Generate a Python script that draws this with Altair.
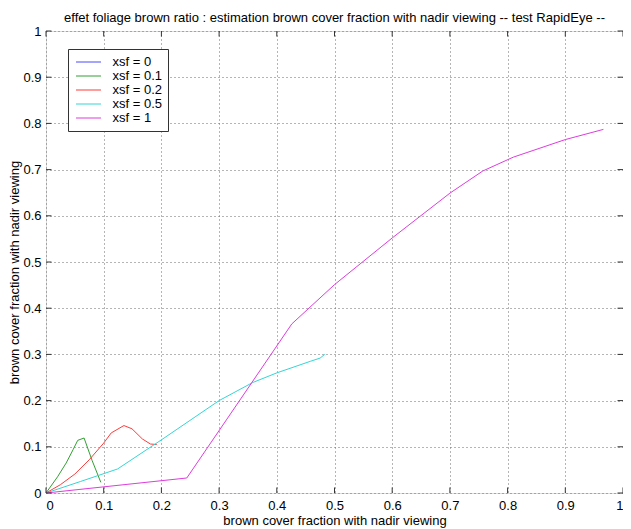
import altair as alt
import pandas as pd

FONT = "Liberation Sans"

series = ["xsf = 0", "xsf = 0.1", "xsf = 0.2", "xsf = 0.5", "xsf = 1"]
colors = ["#4a4aff", "#33a033", "#ff3b3b", "#33d6d6", "#dd3ddd"]

x_xsf0 = [0.0, 0.0]
y_xsf0 = [0.0, 0.0]

x_xsf01 = [0.0, 0.02, 0.035, 0.047, 0.055, 0.066, 0.08, 0.095]
y_xsf01 = [0.0, 0.035, 0.065, 0.094, 0.114, 0.119, 0.07, 0.023]

x_xsf02 = [0.0, 0.025, 0.05, 0.075, 0.1, 0.113, 0.135, 0.149, 0.167, 0.181, 0.192]
y_xsf02 = [0.0, 0.018, 0.041, 0.072, 0.108, 0.130, 0.146, 0.139, 0.117, 0.106, 0.105]

x_xsf05 = [0.0, 0.06, 0.124, 0.2, 0.3, 0.358, 0.4, 0.458, 0.475, 0.483]
y_xsf05 = [0.0, 0.025, 0.052, 0.115, 0.2, 0.239, 0.26, 0.285, 0.292, 0.3]

x_xsf1 = [0.0, 0.244, 0.426, 0.5, 0.6, 0.7, 0.757, 0.81, 0.9, 0.966]
y_xsf1 = [0.0, 0.0325, 0.366, 0.451, 0.552, 0.649, 0.697, 0.727, 0.765, 0.787]

tick_values = [0, 0.1, 0.2, 0.3, 0.4, 0.5, 0.6, 0.7, 0.8, 0.9, 1]

title_text = "effet foliage brown ratio : estimation brown cover fraction with nadir viewing -- test RapidEye --"
axis_title = "brown cover fraction with nadir viewing"

rows = []
for name, xs, ys in zip(series,
                        [x_xsf0, x_xsf01, x_xsf02, x_xsf05, x_xsf1],
                        [y_xsf0, y_xsf01, y_xsf02, y_xsf05, y_xsf1]):
    for i, (a, b) in enumerate(zip(xs, ys)):
        rows.append({"series": name, "x": a, "y": b, "i": i})
df = pd.DataFrame(rows)

xs_scale = alt.Scale(domain=[0, 1], nice=False, zero=False)
ys_scale = alt.Scale(domain=[0, 1], nice=False, zero=False)

x_axis = alt.Axis(values=tick_values, format=".1~f", grid=True, gridDash=[1, 3],
                  gridColor="#6a6a6a", gridOpacity=1, domain=False, ticks=False,
                  labelPadding=6, labelFontSize=13, labelColor="black",
                  title=axis_title, titleFontSize=13, titleFontWeight="normal",
                  titlePadding=2, titleColor="black", labelFont=FONT, titleFont=FONT)
y_axis = alt.Axis(values=tick_values, format=".1~f", grid=True, gridDash=[1, 3],
                  gridColor="#6a6a6a", gridOpacity=1, domain=False, ticks=False,
                  labelPadding=5, labelFontSize=13, labelColor="black",
                  title=axis_title, titleFontSize=13, titleFontWeight="normal",
                  titleColor="black", titleY=241, titleX=-25, titleBaseline="bottom",
                  titleAngle=270, labelFont=FONT, titleFont=FONT)

lines = alt.Chart(df).mark_line(strokeWidth=1).encode(
    x=alt.X("x:Q", scale=xs_scale, axis=x_axis),
    y=alt.Y("y:Q", scale=ys_scale, axis=y_axis),
    color=alt.Color("series:N", scale=alt.Scale(domain=series, range=colors),
                    legend=alt.Legend(title=None, orient="none", legendX=22, legendY=18,
                                      symbolType="M-2,0H2", symbolSize=156,
                                      symbolStrokeWidth=1, strokeColor="#333",
                                      fillColor="white", padding=6, labelFontSize=13,
                                      labelFont=FONT, labelOffset=17, rowPadding=0,
                                      symbolOffset=7.5, labelColor="black")),
    order="i:Q",
)

tick_df = pd.DataFrame({
    "t": tick_values,
    "lo": [0.0] * len(tick_values),
    "lo_in_y": [0.012] * len(tick_values),
    "lo_in_x": [0.0095] * len(tick_values),
    "hi": [1.0] * len(tick_values),
    "hi_in_y": [0.988] * len(tick_values),
    "hi_in_x": [0.9905] * len(tick_values),
})
tick_color = "#333333"

t_bottom = alt.Chart(tick_df).mark_rule(color=tick_color, strokeWidth=1).encode(
    x=alt.X("t:Q", scale=xs_scale, axis=x_axis),
    y=alt.Y("lo:Q", scale=ys_scale, axis=y_axis), y2="lo_in_y:Q",
)
t_top = alt.Chart(tick_df).mark_rule(color=tick_color, strokeWidth=1).encode(
    x=alt.X("t:Q", scale=xs_scale, axis=x_axis),
    y=alt.Y("hi:Q", scale=ys_scale, axis=y_axis), y2="hi_in_y:Q",
)
t_left = alt.Chart(tick_df).mark_rule(color=tick_color, strokeWidth=1).encode(
    y=alt.Y("t:Q", scale=ys_scale, axis=y_axis),
    x=alt.X("lo:Q", scale=xs_scale, axis=x_axis), x2="lo_in_x:Q",
)
t_right = alt.Chart(tick_df).mark_rule(color=tick_color, strokeWidth=1).encode(
    y=alt.Y("t:Q", scale=ys_scale, axis=y_axis),
    x=alt.X("hi:Q", scale=xs_scale, axis=x_axis), x2="hi_in_x:Q",
)

chart = alt.layer(lines, t_bottom, t_top, t_left, t_right).properties(
    width=577, height=462,
    title=alt.TitleParams(text=title_text, fontSize=13, fontWeight="normal",
                          anchor="middle", frame="group", offset=0, font=FONT,
                          color="black"),
    padding={"left": 38, "top": 23, "right": 0, "bottom": 35},
    autosize=alt.AutoSizeParams(type="none"),
).configure_view(stroke="#333333", strokeWidth=1).configure(background="white")

chart.save("out.html", embed_options={"renderer": "svg", "actions": False})
